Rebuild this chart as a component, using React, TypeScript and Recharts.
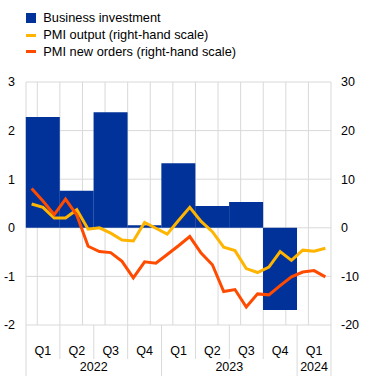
import React from 'react';
import { ComposedChart, Bar, Line, XAxis, YAxis, CartesianGrid, Legend, Rectangle } from 'recharts';

const months = [
  '2022-01', '2022-02', '2022-03', '2022-04', '2022-05', '2022-06',
  '2022-07', '2022-08', '2022-09', '2022-10', '2022-11', '2022-12',
  '2023-01', '2023-02', '2023-03', '2023-04', '2023-05', '2023-06',
  '2023-07', '2023-08', '2023-09', '2023-10', '2023-11', '2023-12',
  '2024-01', '2024-02', '2024-03',
];
const quarters = ['Q1', 'Q2', 'Q3', 'Q4', 'Q1', 'Q2', 'Q3', 'Q4', 'Q1'];
const quarterYears = ['2022', '2022', '2022', '2022', '2023', '2023', '2023', '2023', '2024'];
const years = ['2022', '2023', '2024'];

// Business investment, quarterly (left-hand scale)
const investment: (number | null)[] = [2.28, 0.76, 2.38, 0.05, 1.33, 0.45, 0.53, -1.69, null];
// PMI output, monthly (right-hand scale)
const pmiOutput = [
  4.9, 4.2, 2.0, 2.0, 3.7, -0.3, 0.0, -1.1, -2.5, -2.7, 1.1, -0.1,
  -1.3, 1.5, 4.2, 1.3, -0.8, -4.0, -4.7, -8.4, -9.2, -8.1, -4.9, -6.7,
  -4.6, -4.8, -4.2,
];
// PMI new orders, monthly (right-hand scale)
const pmiNewOrders = [
  8.1, 5.5, 2.7, 5.9, 2.6, -3.8, -4.9, -5.1, -6.9, -10.3, -7.0, -7.3,
  -5.5, -3.7, -1.8, -5.2, -7.6, -13.1, -12.7, -16.3, -13.6, -13.8, -11.9, -10.1,
  -9.1, -8.8, -10.1,
];

const leftTicks = [-2, -1, 0, 1, 2, 3];
const rightTicks = [-20, -10, 0, 10, 20, 30];

const COLORS = { bar: '#003299', output: '#FFB400', orders: '#FF4B00', grid: '#d9d9d9', text: '#000' };
const FONT = '"Liberation Sans", Arial, sans-serif';

// quarterly value placed on the middle month of its quarter; drawn across the whole quarter
const data = months.map((m, i) => ({
  month: m,
  x: i + 0.5,
  investment: i % 3 === 1 ? investment[Math.floor(i / 3)] : null,
  output: pmiOutput[i],
  orders: pmiNewOrders[i],
}));

const nMonths = months.length;
const gridTicks = Array.from({ length: nMonths + 1 }, (_, i) => i);
const quarterBoundaries = Array.from({ length: quarters.length + 1 }, (_, i) => Math.min(i * 3, nMonths));
const quarterCenters = quarters.map((_, i) => (i * 3 + Math.min(i * 3 + 3, nMonths)) / 2);
const yearStarts = years.map((yr) => quarterYears.indexOf(yr) * 3);
const yearEnds = years.map((yr) => Math.min((quarterYears.lastIndexOf(yr) + 1) * 3, nMonths));
const yearCenters = years.map((_, i) => (yearStarts[i] + yearEnds[i]) / 2);
const yearBoundaries = Array.from(new Set([...yearStarts, ...yearEnds]));
const labelTicks = Array.from(new Set([...quarterBoundaries, ...quarterCenters])).sort((a, b) => a - b);

const XTick = (props: any) => {
  const { x, y, payload } = props;
  const v = payload.value;
  const els: React.ReactNode[] = [];
  if (quarterBoundaries.includes(v)) {
    const isYear = yearBoundaries.includes(v);
    els.push(<line key="l" x1={x} x2={x} y1={y} y2={y + (isYear ? 52 : 34)} stroke={COLORS.grid} strokeWidth={1} />);
  }
  const qi = quarterCenters.indexOf(v);
  if (qi >= 0) {
    els.push(
      <text key="q" x={x} y={y + 26} dy="0.35em" textAnchor="middle" fill={COLORS.text} fontSize={12.5} fontFamily={FONT}>
        {quarters[qi]}
      </text>
    );
  }
  const yi = yearCenters.indexOf(v);
  if (yi >= 0) {
    els.push(
      <text key="y" x={x} y={y + 42} dy="0.35em" textAnchor="middle" fill={COLORS.text} fontSize={12.5} fontFamily={FONT}>
        {years[yi]}
      </text>
    );
  }
  return <g>{els}</g>;
};

const LeftTick = (props: any) => {
  const { x, y, payload } = props;
  return (
    <text x={x} y={y} dy="0.35em" textAnchor="end" fill={COLORS.text} fontSize={12.5} fontFamily={FONT}>
      {String(payload.value)}
    </text>
  );
};

const RightTick = (props: any) => {
  const { x, y, payload } = props;
  return (
    <text x={x} y={y} dy="0.35em" textAnchor="start" fill={COLORS.text} fontSize={12.5} fontFamily={FONT}>
      {String(payload.value)}
    </text>
  );
};

// the library gives a one-month-wide bar centred on the quarter's middle month; widen it to the quarter
const BarShape = (props: any) => {
  const cx = props.x + props.width / 2;
  const w = props.width * 3 + 1;
  return <Rectangle {...props} x={cx - w / 2} width={w} />;
};

const legendOrder = ['investment', 'output', 'orders'];

const renderLegend = (props: any) => {
  const payload = [...(props.payload || [])].sort(
    (a: any, b: any) => legendOrder.indexOf(a.dataKey) - legendOrder.indexOf(b.dataKey)
  );
  return (
    <div style={{ position: 'relative', height: 82, fontFamily: FONT, fontSize: 12.8, color: COLORS.text }}>
      {payload.map((entry: any, i: number) => (
        <div
          key={entry.dataKey}
          style={{
            position: 'absolute',
            left: 26,
            top: 18.3 + i * 16.7 - 8,
            height: 16,
            display: 'flex',
            alignItems: 'center',
            whiteSpace: 'nowrap',
          }}
        >
          {entry.dataKey === 'investment' ? (
            <span style={{ display: 'inline-block', width: 10, height: 10, background: entry.color }} />
          ) : (
            <span style={{ display: 'inline-block', width: 10, height: 3, background: entry.color }} />
          )}
          <span style={{ marginLeft: 7.3, lineHeight: '16px' }}>{entry.value}</span>
        </div>
      ))}
    </div>
  );
};

export default function App() {
  return (
    <div style={{ position: 'absolute', left: 0, top: 0, width: 371, height: 376 }}>
      <ComposedChart
        width={371}
        height={376}
        data={data}
        margin={{ top: 0, right: 0, bottom: 0, left: 0 }}
        barCategoryGap={0}
        barGap={0}
      >
        <CartesianGrid xAxisId="grid" yAxisId="left" stroke={COLORS.grid} strokeWidth={1} strokeDasharray="" />
        <XAxis
          xAxisId="grid"
          orientation="top"
          height={0}
          dataKey="x"
          type="number"
          domain={[0, nMonths]}
          ticks={gridTicks}
          hide
        />
        <XAxis
          xAxisId="lab"
          dataKey="x"
          type="number"
          domain={[0, nMonths]}
          ticks={labelTicks}
          interval={0}
          axisLine={false}
          tickLine={false}
          tickSize={0}
          tickMargin={0}
          height={51}
          tick={<XTick />}
        />
        <YAxis
          yAxisId="left"
          orientation="left"
          domain={[-2, 3]}
          ticks={leftTicks}
          width={26}
          axisLine={false}
          tickLine={false}
          tickSize={0}
          tickMargin={11}
          tick={<LeftTick />}
        />
        <YAxis
          yAxisId="right"
          orientation="right"
          domain={[-20, 30]}
          ticks={rightTicks}
          width={40}
          axisLine={false}
          tickLine={false}
          tickSize={0}
          tickMargin={10}
          tick={<RightTick />}
        />
        <Legend
          verticalAlign="top"
          align="left"
          layout="horizontal"
          content={renderLegend}
          wrapperStyle={{ left: 0, top: 0, width: 371 }}
        />
        <Bar
          xAxisId="grid"
          yAxisId="left"
          dataKey="investment"
          name="Business investment"
          fill={COLORS.bar}
          shape={BarShape}
          isAnimationActive={false}
        />
        <Line
          xAxisId="grid"
          yAxisId="right"
          dataKey="output"
          name="PMI output (right-hand scale)"
          stroke={COLORS.output}
          strokeWidth={3}
          dot={false}
          activeDot={false}
          type="linear"
          isAnimationActive={false}
        />
        <Line
          xAxisId="grid"
          yAxisId="right"
          dataKey="orders"
          name="PMI new orders (right-hand scale)"
          stroke={COLORS.orders}
          strokeWidth={3}
          dot={false}
          activeDot={false}
          type="linear"
          isAnimationActive={false}
        />
      </ComposedChart>
    </div>
  );
}
